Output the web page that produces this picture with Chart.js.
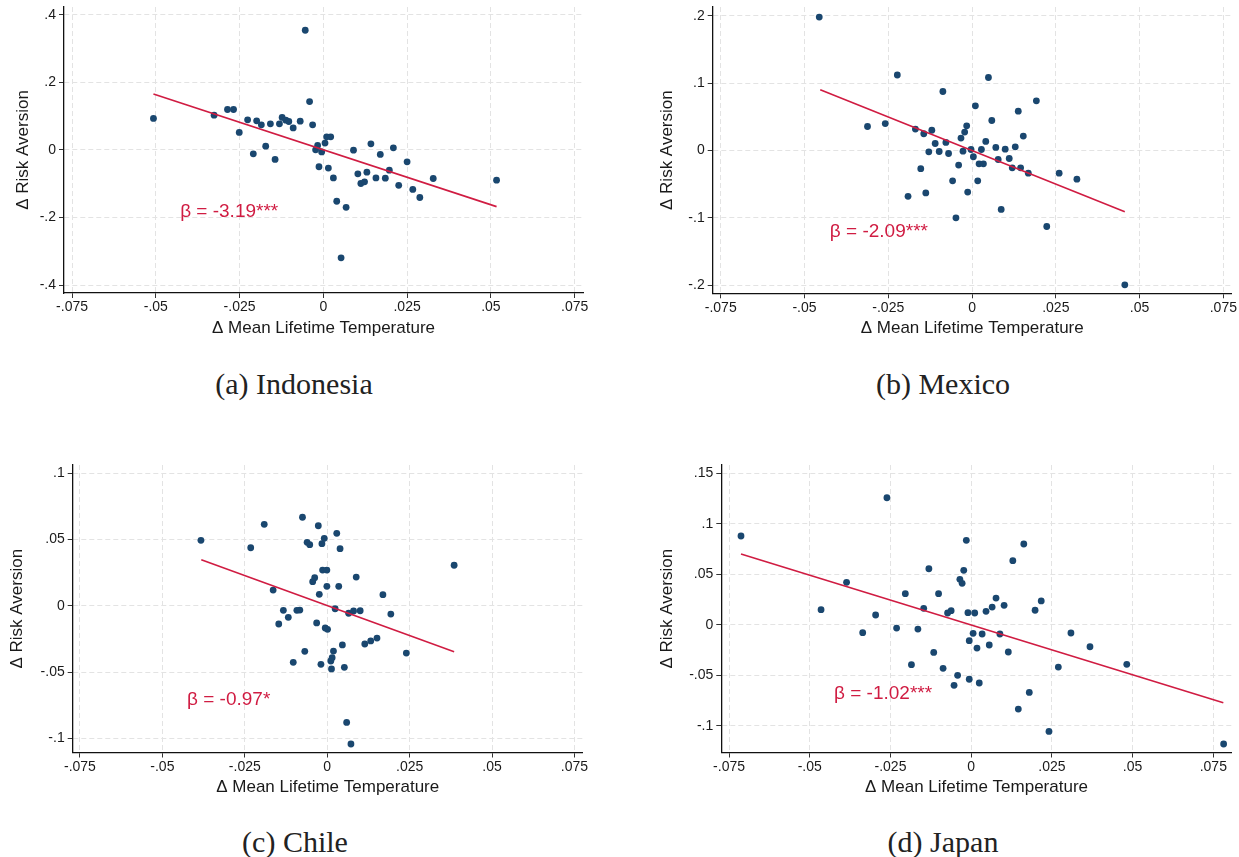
<!DOCTYPE html>
<html>
<head>
<meta charset="utf-8">
<script src="https://cdn.jsdelivr.net/npm/chart.js@4.4.1/dist/chart.umd.min.js"></script>
<style>
    body { margin: 0; background: #fff; }
    #page { position: relative; width: 1239px; height: 857px; overflow: hidden; background: #fff; }
    canvas { position: absolute; }
    .caption {
        position: absolute;
        width: 400px;
        height: 40px;
        line-height: 40px;
        text-align: center;
        font-family: 'Liberation Serif', 'DejaVu Serif', serif;
        font-size: 30px;
        color: #222;
    }
</style>
</head>
<body>
<div id="page">
    <canvas id="chartA" width="587" height="339" style="left:13px; top:0px"></canvas>
    <canvas id="chartB" width="582" height="339" style="left:657px; top:0px"></canvas>
    <canvas id="chartC" width="593" height="343" style="left:7px; top:455px"></canvas>
    <canvas id="chartD" width="582" height="343" style="left:657px; top:455px"></canvas>
    <div class="caption" style="left:94px; top:364px">(a) Indonesia</div>
    <div class="caption" style="left:743px; top:364px">(b) Mexico</div>
    <div class="caption" style="left:95px; top:822px">(c) Chile</div>
    <div class="caption" style="left:743px; top:822px">(d) Japan</div>
</div>
<script>
// x ticks shared by all four panels
const xTickValues = [-0.075, -0.05, -0.025, 0, 0.025, 0.05, 0.075]
const xTickLabels = ['-.075', '-.05', '-.025', '0', '.025', '.05', '.075']

// (a) Indonesia
const indonesiaX = [-0.0507, -0.0326, -0.0286, -0.0268, -0.0251, -0.0226, -0.0209, -0.0199, -0.0185, -0.0172,
    -0.0158, -0.0144, -0.0131, -0.0123, -0.0112, -0.0103, -0.009, -0.0069, -0.0054, -0.0041,
    -0.0032, -0.0023, -0.0017, -0.0013, -0.0005, 0.0005, 0.001, 0.0022, 0.0015, 0.003,
    0.004, 0.0053, 0.0068, 0.009, 0.0103, 0.0112, 0.0123, 0.013, 0.0142, 0.0157,
    0.017, 0.0185, 0.0197, 0.0209, 0.0225, 0.025, 0.0267, 0.0288, 0.0328, 0.0517]
const indonesiaY = [0.093, 0.1026, 0.1195, 0.1195, 0.0515, 0.0888, -0.0118, 0.0858, 0.074, 0.011,
    0.077, -0.0284, 0.077, 0.0959, 0.0879, 0.084, 0.065, 0.085, 0.354, 0.143,
    0.074, 0.0, 0.013, -0.05, -0.006, 0.02, 0.0385, 0.0385, -0.054, -0.083,
    -0.152, -0.3195, -0.17, -0.001, -0.071, -0.0995, -0.0947, -0.066, 0.018, -0.083,
    -0.0136, -0.0837, -0.06, 0.006, -0.105, -0.0355, -0.117, -0.141, -0.0847, -0.0897]
const indonesiaFitX = [-0.0507, 0.0517]
const indonesiaFitY = [0.165, -0.168]
const indonesiaYTicks = [-0.4, -0.2, 0, 0.2, 0.4]
const indonesiaYLabels = ['-.4', '-.2', '0', '.2', '.4']

// (b) Mexico
const mexicoX = [-0.0456, -0.0312, -0.0259, -0.0223, -0.0191, -0.0169, -0.0153, -0.0144, -0.0138, -0.0129,
    -0.012, -0.011, -0.0098, -0.0087, -0.0078, -0.007, -0.0058, -0.0048, -0.004, -0.0033,
    -0.0027, -0.0022, -0.0016, -0.0013, -0.0003, 0.0004, 0.001, 0.0017, 0.0021, 0.0034,
    0.0028, 0.0041, 0.0049, 0.0059, 0.0071, 0.0078, 0.0087, 0.0099, 0.0111, 0.012,
    0.0129, 0.0138, 0.0145, 0.0153, 0.0168, 0.0192, 0.0223, 0.026, 0.0313, 0.0456]
const mexicoY = [0.198, 0.0356, 0.04, 0.112, -0.068, 0.0317, -0.027, 0.0248, -0.063, -0.002,
    0.03, 0.0104, -0.0015, 0.0875, 0.0119, -0.0045, -0.045, -0.0999, -0.0217, 0.0184,
    -0.001, 0.0273, 0.0366, -0.0617, 0.0015, -0.0093, 0.0663, -0.045, -0.0198, -0.0198,
    0.0015, 0.0134, 0.1083, 0.0445, 0.0045, -0.0134, -0.0875, 0.002, -0.0119, -0.0257,
    0.0055, 0.0584, -0.0257, 0.0214, -0.0336, 0.0737, -0.1128, -0.0336, -0.0425, -0.1993]
const mexicoFitX = [-0.0453, 0.0456]
const mexicoFitY = [0.09, -0.091]
const mexicoYTicks = [-0.2, -0.1, 0, 0.1, 0.2]
const mexicoYLabels = ['-.2', '-.1', '0', '.1', '.2']

// (c) Chile
const chileX = [-0.0383, -0.0232, -0.0191, -0.0164, -0.0147, -0.0133, -0.0118, -0.0103, -0.0092, -0.0083,
    -0.0075, -0.0068, -0.0061, -0.0053, -0.0044, -0.0038, -0.0032, -0.0027, -0.0024, -0.0019,
    -0.0016, -0.0014, -0.0001, -0.0009, -0.0006, 0.0001, -0.0001, 0.0011, 0.0015, 0.0013,
    0.0019, 0.0024, 0.0029, 0.0035, 0.0039, 0.0046, 0.0052, 0.0059, 0.0065, 0.0072,
    0.008, 0.0088, 0.01, 0.0114, 0.0132, 0.0151, 0.0169, 0.0193, 0.024, 0.0385]
const chileY = [0.0493, 0.0437, 0.0614, 0.0118, -0.0138, -0.0035, -0.0088, -0.0427, -0.0035, -0.0033,
    0.0667, -0.0344, 0.0478, 0.046, 0.0181, 0.0211, -0.013, 0.0603, 0.0086, -0.0442,
    0.0468, 0.0269, 0.0269, 0.0508, -0.0168, -0.0178, 0.0146, -0.0417, -0.0392, -0.0477,
    -0.0342, -0.0023, 0.0546, 0.0146, 0.043, -0.0296, -0.0465, -0.088, -0.0057, -0.1043,
    -0.004, 0.0216, -0.0038, -0.0289, -0.0266, -0.0244, 0.0083, -0.0063, -0.0357, 0.0305]
const chileFitX = [-0.0382, 0.0385]
const chileFitY = [0.0347, -0.0347]
const chileYTicks = [-0.1, -0.05, 0, 0.05, 0.1]
const chileYLabels = ['-.1', '-.05', '0', '.05', '.1']

// (d) Japan
const japanX = [-0.0713, -0.0465, -0.0386, -0.0336, -0.0296, -0.0261, -0.0231, -0.0204, -0.0185, -0.0165,
    -0.0147, -0.0131, -0.0116, -0.0101, -0.0087, -0.0073, -0.0062, -0.0053, -0.0042, -0.0035,
    -0.0028, -0.0023, -0.0015, -0.001, -0.0006, -0.0006, 0.0006, 0.0011, 0.0018, 0.0025,
    0.0034, 0.0046, 0.0056, 0.0065, 0.0077, 0.0089, 0.0102, 0.0115, 0.0129, 0.0146,
    0.0163, 0.018, 0.0198, 0.0217, 0.0241, 0.027, 0.0309, 0.0368, 0.0482, 0.0782]
const japanY = [0.0878, 0.0149, 0.042, -0.0079, 0.0096, 0.1257, -0.0033, 0.0307, -0.0396, -0.0043,
    0.0162, 0.0554, -0.0274, 0.0307, -0.0432, 0.0116, 0.0139, -0.06, -0.0501, 0.0449,
    0.041, 0.0538, 0.0835, 0.0119, -0.0158, -0.054, -0.0085, 0.0116, -0.0231, -0.0577,
    -0.0092, 0.0133, -0.0201, 0.0175, 0.0264, -0.0092, 0.0192, -0.027, 0.0634, -0.0835,
    0.0799, -0.067, 0.0143, 0.0235, -0.1056, -0.0419, -0.0082, -0.0218, -0.0392, -0.1181]
const japanFitX = [-0.0713, 0.0781]
const japanFitY = [0.07, -0.0772]
const japanYTicks = [-0.1, -0.05, 0, 0.05, 0.1, 0.15]
const japanYLabels = ['-.1', '-.05', '0', '.05', '.1', '.15']

// coefficient labels, one per panel (a, b, c, d)
const betaText = ['β = -3.19***', 'β = -2.09***', 'β = -0.97*', 'β = -1.02***']
const betaX = [-0.0281, -0.0278, -0.0299, -0.0273]
const betaY = [-0.184, -0.1206, -0.0711, -0.0679]

const dotColor = '#1a476f'
const fitColor = '#d01c42'
const gridColor = '#e3e3e3'
const sansFont = "'Liberation Sans', Arial, sans-serif"

const betaNote = {
    id: 'betaNote',
    afterDatasetsDraw(chart, args, opts) {
        const ctx = chart.ctx
        const px = chart.scales.x.getPixelForValue(opts.x)
        const py = chart.scales.y.getPixelForValue(opts.y)
        ctx.save()
        ctx.font = '19px ' + sansFont
        ctx.fillStyle = fitColor
        ctx.textAlign = 'center'
        ctx.textBaseline = 'middle'
        ctx.fillText(opts.text, px, py)
        ctx.restore()
    },
}

function makeChart(id, xs, ys, fitX, fitY, yTicks, yLabels, panel, box) {
    const points = xs.map((x, i) => ({ x: x, y: ys[i] }))
    const fit = fitX.map((x, i) => ({ x: x, y: fitY[i] }))

    return new Chart(document.getElementById(id), {
        type: 'scatter',
        data: {
            datasets: [
                {
                    data: points,
                    backgroundColor: dotColor,
                    borderColor: dotColor,
                    borderWidth: 0,
                    pointRadius: 3.4,
                    order: 2,
                },
                {
                    type: 'line',
                    data: fit,
                    borderColor: fitColor,
                    borderWidth: 1.6,
                    pointRadius: 0,
                    fill: false,
                    order: 1,
                },
            ],
        },
        options: {
            responsive: false,
            animation: false,
            layout: { padding: { top: box.padTop, right: box.padRight, left: 0, bottom: 0 } },
            plugins: {
                legend: { display: false },
                tooltip: { enabled: false },
                betaNote: { x: betaX[panel], y: betaY[panel], text: betaText[panel] },
            },
            scales: {
                x: {
                    type: 'linear',
                    min: box.xMin,
                    max: box.xMax,
                    afterBuildTicks: (scale) => {
                        scale.ticks = xTickValues.map((v) => ({ value: v }))
                    },
                    afterFit: (scale) => {
                        scale.height = box.xHeight
                        scale.paddingLeft = 0
                        scale.paddingRight = 0
                    },
                    ticks: {
                        autoSkip: false,
                        maxRotation: 0,
                        padding: 1,
                        color: '#1a1a1a',
                        font: { family: sansFont, size: 14 },
                        callback: (value, index) => xTickLabels[index],
                    },
                    grid: {
                        color: gridColor,
                        lineWidth: 1,
                        tickLength: 5,
                        tickColor: '#333',
                        tickWidth: 1,
                        tickBorderDash: [],
                    },
                    border: { display: true, color: '#111', width: 1.3, dash: [5, 3] },
                    title: {
                        display: true,
                        text: 'Δ Mean Lifetime Temperature',
                        color: '#1a1a1a',
                        padding: 0,
                        font: { family: sansFont, size: 17 },
                    },
                },
                y: {
                    type: 'linear',
                    min: box.yMin,
                    max: box.yMax,
                    afterBuildTicks: (scale) => {
                        scale.ticks = yTicks.map((v) => ({ value: v }))
                    },
                    afterFit: (scale) => {
                        scale.width = box.yWidth
                        scale.paddingTop = 0
                        scale.paddingBottom = 0
                    },
                    ticks: {
                        autoSkip: false,
                        padding: 3,
                        color: '#1a1a1a',
                        font: { family: sansFont, size: 14 },
                        callback: (value, index) => yLabels[index],
                    },
                    grid: {
                        color: gridColor,
                        lineWidth: 1,
                        tickLength: 5,
                        tickColor: '#333',
                        tickWidth: 1,
                        tickBorderDash: [],
                    },
                    border: { display: true, color: '#111', width: 1.3, dash: [5, 3] },
                    title: {
                        display: true,
                        text: 'Δ Risk Aversion',
                        color: '#1a1a1a',
                        padding: 0,
                        font: { family: sansFont, size: 17 },
                    },
                },
            },
        },
        plugins: [betaNote],
    })
}

const chartA = makeChart('chartA', indonesiaX, indonesiaY, indonesiaFitX, indonesiaFitY,
    indonesiaYTicks, indonesiaYLabels, 0,
    { padTop: 7, padRight: 17, yWidth: 51, xHeight: 46, xMin: -0.0774, xMax: 0.0775, yMin: -0.4236, yMax: 0.4228 })

const chartB = makeChart('chartB', mexicoX, mexicoY, mexicoFitX, mexicoFitY,
    mexicoYTicks, mexicoYLabels, 1,
    { padTop: 7, padRight: 7.3, yWidth: 55.7, xHeight: 45.7, xMin: -0.0774, xMax: 0.0775, yMin: -0.2119, yMax: 0.2129 })

const chartC = makeChart('chartC', chileX, chileY, chileFitX, chileFitY,
    chileYTicks, chileYLabels, 2,
    { padTop: 10, padRight: 17.3, yWidth: 65.7, xHeight: 45.5, xMin: -0.0772, xMax: 0.0775, yMin: -0.1107, yMax: 0.1061 })

const chartD = makeChart('chartD', japanX, japanY, japanFitX, japanFitY,
    japanYTicks, japanYLabels, 3,
    { padTop: 10, padRight: 7.3, yWidth: 64.3, xHeight: 45.5, xMin: -0.0774, xMax: 0.0807, yMin: -0.1265, yMax: 0.1581 })
</script>
</body>
</html>
